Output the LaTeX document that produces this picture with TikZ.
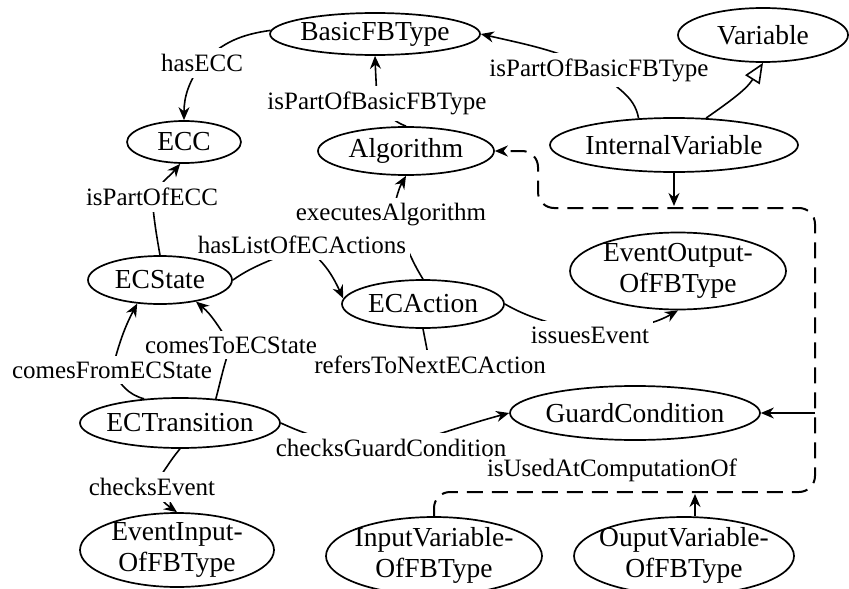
\documentclass[tikz,border=0pt]{standalone}
\usepackage{fontspec}
\setmainfont{Liberation Serif}
\usetikzlibrary{arrows.meta,shapes.geometric}
\pgfdeclarelayer{bg}
\pgfsetlayers{bg,main}
\newcommand{\entfont}{\fontsize{27.5}{31}\selectfont}
\newcommand{\lblfont}{\fontsize{25}{27}\selectfont}
\newcommand{\nbox}[1]{\makebox[0pt]{#1}}
\newcommand{\twol}[2]{\makebox[0pt]{\begin{tabular}{@{}c@{}}#1\\#2\end{tabular}}}
\begin{document}
\begin{tikzpicture}[x=1pt,y=-1pt,
  ent/.style={ellipse, draw, line width=1.7pt, fill=white, inner sep=0pt, font=\entfont},
  ent2/.style={ent, inner ysep=-10pt},
  lbl/.style={fill=white, inner xsep=4pt, inner ysep=6pt, font=\lblfont},
  plainlbl/.style={inner sep=2pt, font=\lblfont},
  edge/.style={line width=1.6pt},
  arr/.style={edge, -{Stealth[length=13pt,width=11pt]}},
  sub/.style={edge, -{Triangle[open,length=20pt,width=17pt]}},
  bus/.style={line width=2pt, dash pattern=on 16pt off 9pt}]
\useasboundingbox (0,0) rectangle (849,589);

% edge labels
\node[lbl] (lHasECC) at (202,63) {hasECC};
\node[lbl] (lPartA) at (377,103) {isPartOfBasicFBType};
\node[lbl] (lPartB) at (599,70) {isPartOfBasicFBType};
\node[lbl] (lPartECC) at (152,197) {isPartOfECC};
\node[lbl] (lExec) at (391,215) {executesAlgorithm};
\node[lbl] (lHasList) at (302,245) {hasListOfECActions};
\node[lbl] (lRefers) at (430,365) {refersToNextECAction};
\node[lbl] (lIssues) at (590,335) {issuesEvent};
\node[lbl] (lFrom) at (112,370) {comesFromECState};
\node[lbl] (lTo) at (231,345) {comesToECState};
\node[lbl] (lGuardL) at (391,448) {checksGuardCondition};
\node[lbl] (lChecksEv) at (152,487) {checksEvent};
\node[plainlbl] (lUsed) at (612,470) {isUsedAtComputationOf};

% classes
\node[ent, minimum width=210pt, minimum height=42pt] (basic) at (375,34) {\nbox{BasicFBType}};
\node[ent, minimum width=170pt, minimum height=54pt] (var) at (763,35) {\nbox{Variable}};
\node[ent, minimum width=248pt, minimum height=54pt] (intVar) at (674,145) {\nbox{InternalVariable}};
\node[ent, minimum width=114pt, minimum height=42pt] (ecc) at (184,142) {\nbox{ECC}};
\node[ent, minimum width=176pt, minimum height=48pt] (alg) at (406,151) {\nbox{Algorithm}};
\node[ent, minimum width=144pt, minimum height=48pt] (ecs) at (160,280) {\nbox{ECState}};
\node[ent, minimum width=162pt, minimum height=48pt] (eca) at (423,304) {\nbox{ECAction}};
\node[ent2, minimum width=216pt, minimum height=77pt] (evOut) at (678,271) {\twol{EventOutput-}{OfFBType}};
\node[ent, minimum width=200pt, minimum height=50pt] (ect) at (180,423) {\nbox{ECTransition}};
\node[ent, minimum width=250pt, minimum height=54pt] (guard) at (635,413) {\nbox{GuardCondition}};
\node[ent2, minimum width=194pt, minimum height=74pt] (evIn) at (177,550) {\twol{EventInput-}{OfFBType}};
\node[ent2, minimum width=216pt, minimum height=78pt] (inVar) at (434,556) {\twol{InputVariable-}{OfFBType}};
\node[ent2, minimum width=220pt, minimum height=78pt] (outVar) at (684,556) {\twol{OuputVariable-}{OfFBType}};

% bus points
\coordinate (bl) at (434,492);
\coordinate (br) at (815,492);
\coordinate (tr) at (815,208);
\coordinate (tl) at (538,208);
\coordinate (bInt) at (674,208);
\coordinate (bOut) at (695,492);
\coordinate (bGuard) at (tr |- guard.east);

\begin{pgfonlayer}{bg}
\draw[arr] (basic.178) to[out=188,in=45] (lHasECC.center) to[out=235,in=90] (ecc.north);
\draw[arr] (alg.north) to[out=160,in=-45] (lPartA.center) to[out=92,in=-88] (basic.south);
\draw[arr] (intVar.143) to[out=100,in=-50] (lPartB.center) to[out=155,in=-13] (basic.east);
\draw[sub] (intVar.40) to[out=35,in=-122] (var.south);
\draw[arr] (ecs.north) to[out=100,in=-85] (lPartECC.center) to[out=60,in=-130] (ecc.-100);
\draw[arr] (eca.north) to[out=122,in=-60] (lExec.center) to[out=70,in=-120] (alg.south);
\draw[arr] (ecs.east) to[out=35,in=210] (lHasList.center) to[out=-35,in=115] (eca.176);
\draw[edge] (eca.south) -- (lRefers.center);
\draw[arr] (eca.east) to[out=-30,in=160] (lIssues.center) to[out=15,in=210] (evOut.south);
\draw[arr] (ect.146) to[out=165,in=-60] (lFrom.center) to[out=75,in=-118] (ecs.226);
\draw[arr] (ect.34) to[out=75,in=-110] (lTo.center) to[out=125,in=-40] (ecs.-31);
\draw[arr] (ect.east) to[out=-25,in=175] (lGuardL.center) to[out=15,in=195] (guard.west);
\draw[arr] (ect.south) to[out=-130,in=50] (lChecksEv.center) to[out=-55,in=145] (evIn.north);
\draw[bus, rounded corners=16pt, -{Stealth[length=13pt,width=11pt]}]
  (inVar.north) -- (bl) -- (br) -- (tr) -- (tl) -- (tl |- alg.east) -- (alg.east);
\draw[arr, shorten >=2pt] (intVar.south) -- (bInt);
\draw[arr, shorten >=2pt] (outVar.north -| bOut) -- (bOut);
\draw[arr] (bGuard) -- (guard.east);
\end{pgfonlayer}
\end{tikzpicture}
\end{document}
